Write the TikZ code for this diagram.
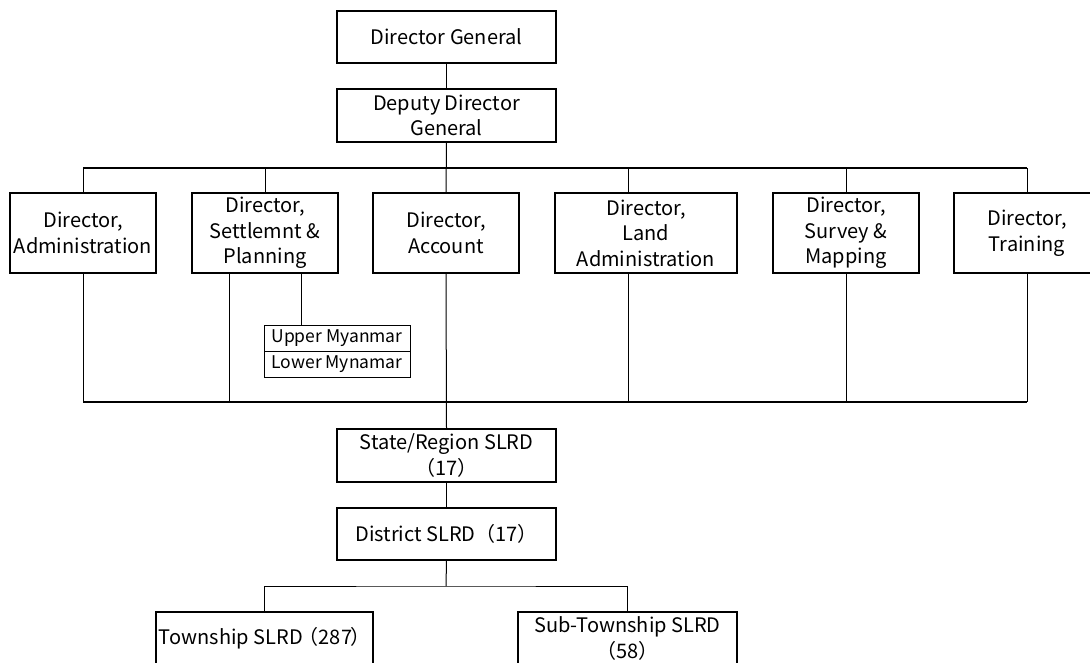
\documentclass[tikz,border=0pt]{standalone}
\usepackage{fontspec}
\setmainfont{Noto Sans CJK JP}
\begin{document}
\begin{tikzpicture}[x=1pt,y=-1pt,
  box/.style={draw=black,line width=1.1pt,fill=white,inner sep=0pt,align=center,
    font=\fontsize{20}{25.5}\selectfont},
  smallbox/.style={draw=black,line width=1pt,inner sep=0pt,align=center,
    minimum width=146pt,minimum height=26pt,font=\fontsize{17.5}{20}\selectfont},
  bus/.style={line width=1.5pt},
  link/.style={line width=1pt}]
\useasboundingbox (0,0) rectangle (1090,662);
\clip (0,0) rectangle (1090,662);
% top
\node[box,minimum width=219pt,minimum height=52pt] (dg) at (446.5,37) {Director General};
\node[box,minimum width=219pt,minimum height=53pt] (ddg) at (446.5,115.5) {Deputy Director\\General};
% directors
\node[box,minimum width=146pt,minimum height=80pt] (d1) at (83,233) {Director,\\Administration};
\node[box,minimum width=146pt,minimum height=80pt] (d2) at (265,233) {Director,\\Settlemnt \&\\Planning};
\node[box,minimum width=146pt,minimum height=80pt] (d3) at (446,233) {Director,\\Account};
\node[box,minimum width=182pt,minimum height=80pt] (d4) at (646,233) {Director,\\Land\\Administration};
\node[box,minimum width=146pt,minimum height=80pt] (d5) at (846,233) {Director,\\Survey \&\\Mapping};
\node[box,minimum width=146pt,minimum height=80pt] (d6) at (1027,233) {Director,\\Training};
% sub boxes
\node[smallbox] (up) at (337,338) {Upper Myanmar};
\node[smallbox] (low) at (337,364) {Lower Mynamar};
% lower
\node[box,minimum width=219pt,minimum height=53pt] (st) at (446.5,455.5) {State/Region SLRD\\（17）};
\node[box,minimum width=219pt,minimum height=52pt] (di) at (446.5,534) {District SLRD（17）};
\node[box,minimum width=217pt,minimum height=53pt] (tw) at (264.5,638.5) {Township SLRD\kern-4pt（287\kern-2pt）};
\node[box,minimum width=219pt,minimum height=53pt] (sub) at (627.5,638.5) {Sub-Township SLRD\\（58）};
% coordinates
\coordinate (tb) at (446,168);
\coordinate (bb) at (446,402);
\coordinate (c4) at (628,168);
\coordinate (c2) at (229,402);
\coordinate (c2s) at (301,273);
\coordinate (c4b) at (628,402);
\coordinate (j) at (446,586);
% connectors
\draw[link] (dg.south) -- (ddg.north);
\draw[link] (ddg.south) -- (d3.north);
\draw[bus] (d1.north |- tb) -- (d6.north |- tb);
\draw[link] (d1.north) -- (d1.north |- tb);
\draw[link] (d2.north) -- (d2.north |- tb);
\draw[link] (c4) -- (c4 |- d4.north);
\draw[link] (d5.north) -- (d5.north |- tb);
\draw[link] (d6.north) -- (d6.north |- tb);
\draw[bus] (d1.south |- bb) -- (d6.south |- bb);
\draw[link] (d1.south) -- (d1.south |- bb);
\draw[link] (c2) -- (c2 |- d2.south);
\draw[link] (c2s) -- (c2s |- up.north);
\draw[link] (d3.south) -- (st.north);
\draw[link] (c4b) -- (c4b |- d4.south);
\draw[link] (d5.south) -- (d5.south |- bb);
\draw[link] (d6.south) -- (d6.south |- bb);
\draw[link] (st.south) -- (di.north);
\draw[link] (di.south) -- (j);
\draw[link] (tw.north) |- (j) -| (sub.north);
\end{tikzpicture}
\end{document}
